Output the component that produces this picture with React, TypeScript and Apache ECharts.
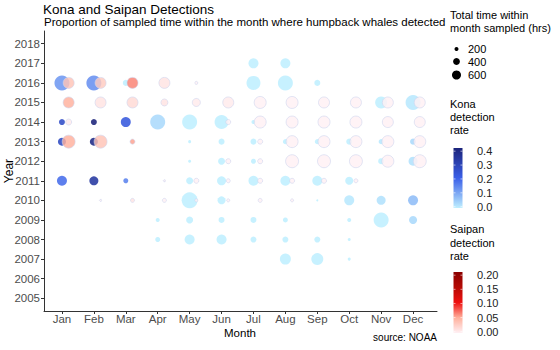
import React, { useEffect, useRef } from "react";
import * as echarts from "echarts";

const monthNames = ["Jan", "Feb", "Mar", "Apr", "May", "Jun", "Jul", "Aug", "Sep", "Oct", "Nov", "Dec"];
const monthTicks = [1, 2, 3, 4, 5, 6, 7, 8, 9, 10, 11, 12];
const yearTicks = [2005, 2006, 2007, 2008, 2009, 2010, 2011, 2012, 2013, 2014, 2015, 2016, 2017, 2018];

// [month, year, total hours sampled, detection rate]
const konaPoints = [
  [7, 2017, 706, 0], [8, 2017, 706, 0],
  [1, 2016, 1362, 0.12], [2, 2016, 1362, 0.13], [3, 2016, 334, 0], [7, 2016, 1214, 0], [8, 2016, 1362, 0], [9, 2016, 334, 0],
  [11, 2015, 943, 0], [12, 2015, 1362, 0.01],
  [1, 2014, 334, 0.26], [2, 2014, 334, 0.4], [3, 2014, 706, 0.22], [4, 2014, 1362, 0.03], [5, 2014, 1362, 0], [6, 2014, 1214, 0], [7, 2014, 200, 0],
  [1, 2013, 503, 0.27], [2, 2013, 503, 0.38], [5, 2013, 146, 0], [6, 2013, 334, 0], [7, 2013, 334, 0], [8, 2013, 263, 0], [9, 2013, 263, 0], [10, 2013, 334, 0], [11, 2013, 263, 0.01], [12, 2013, 334, 0.03],
  [5, 2012, 146, 0], [6, 2012, 414, 0], [7, 2012, 263, 0], [11, 2012, 334, 0], [12, 2012, 600, 0.02],
  [1, 2011, 706, 0.18], [2, 2011, 600, 0.33], [3, 2011, 263, 0.15], [5, 2011, 414, 0], [6, 2011, 600, 0], [7, 2011, 706, 0], [8, 2011, 706, 0], [9, 2011, 706, 0], [10, 2011, 503, 0],
  [5, 2010, 1520, 0], [6, 2010, 503, 0], [9, 2010, 100, 0], [10, 2010, 706, 0.01], [11, 2010, 600, 0.02], [12, 2010, 706, 0.07],
  [4, 2009, 200, 0], [5, 2009, 414, 0], [6, 2009, 334, 0], [7, 2009, 334, 0], [8, 2009, 263, 0], [10, 2009, 200, 0], [11, 2009, 1362, 0], [12, 2009, 503, 0.03],
  [4, 2008, 263, 0], [5, 2008, 706, 0], [6, 2008, 706, 0], [7, 2008, 334, 0], [8, 2008, 334, 0], [9, 2008, 334, 0], [10, 2008, 146, 0],
  [8, 2007, 820, 0], [9, 2007, 943, 0], [10, 2007, 146, 0],
];

const saipanPoints = [
  [1, 2016, 820, 0.035], [2, 2016, 820, 0.03], [3, 2016, 820, 0.065], [4, 2016, 820, 0.01], [5, 2016, 146, 0],
  [1, 2015, 820, 0.05], [2, 2015, 820, 0.01], [3, 2015, 820, 0.018], [4, 2015, 414, 0.01], [5, 2015, 503, 0.005], [6, 2015, 820, 0.005],
  [7, 2015, 943, 0], [8, 2015, 943, 0], [9, 2015, 820, 0], [10, 2015, 820, 0], [11, 2015, 820, 0], [12, 2015, 820, 0],
  [1, 2014, 334, 0.005], [6, 2014, 263, 0], [7, 2014, 943, 0], [8, 2014, 943, 0], [9, 2014, 943, 0], [10, 2014, 943, 0], [11, 2014, 820, 0], [12, 2014, 820, 0],
  [1, 2013, 1074, 0.05], [2, 2013, 1074, 0.035], [3, 2013, 263, 0.055], [7, 2013, 263, 0], [8, 2013, 943, 0], [9, 2013, 943, 0], [10, 2013, 943, 0], [11, 2013, 943, 0], [12, 2013, 943, 0],
  [6, 2012, 263, 0], [7, 2012, 263, 0], [8, 2012, 1074, 0], [9, 2012, 1074, 0], [10, 2012, 1074, 0], [11, 2012, 943, 0], [12, 2012, 1074, 0],
  [4, 2011, 100, 0], [5, 2011, 263, 0], [6, 2011, 200, 0], [7, 2011, 263, 0], [8, 2011, 263, 0], [9, 2011, 263, 0], [10, 2011, 200, 0],
  [2, 2010, 100, 0], [3, 2010, 200, 0.01], [4, 2010, 200, 0], [5, 2010, 146, 0], [6, 2010, 146, 0], [7, 2010, 200, 0], [8, 2010, 146, 0],
];

const sizeBreaks = [200, 400, 600];
const konaBreaks = [0.0, 0.1, 0.2, 0.3, 0.4];
const saipanBreaks = [0.0, 0.05, 0.1, 0.15, 0.2];

const konaColors = ["#BFEFFF", "#3A5FE8", "#1B237A"];
const saipanColors = ["#FFF0F4", "#FFB09C", "#EE1010", "#B50A05", "#8B0000"];

const FONT = "Liberation Sans";
const sizeOf = (h: number) => Math.max(1.5, 0.483 * Math.sqrt(h) - 2.83);
const SAIPAN_OFFSET = 0.21;

export default function App() {
  const ref = useRef<HTMLDivElement>(null);
  useEffect(() => {
    const chart = echarts.init(ref.current!, null, { renderer: "svg" });

    const graphics: any[] = [];
    const txt = (text: string, x: number, y: number, size: number, extra: any = {}) =>
      graphics.push({
        type: "text",
        x,
        y,
        style: { text, fontFamily: FONT, fontSize: size, fill: extra.fill || "#000", textAlign: extra.align || "left", textVerticalAlign: "middle" },
        rotation: extra.rotation || 0,
      });

    txt("Kona and Saipan Detections", 43, 9, 13.5);
    txt("Proportion of sampled time within the month where humpback whales detected", 44, 22, 11.5);
    txt("Year", 9, 171, 12, { rotation: Math.PI / 2, align: "center" });
    txt("Month", 240, 333, 11.5, { align: "center" });
    txt("source: NOAA", 437, 337, 10, { align: "right" });

    // size legend
    txt("Total time within", 450, 15, 11);
    txt("month sampled (hrs)", 450, 28, 11);
    const sizeYs = [49, 61.5, 75];
    sizeBreaks.forEach((b, i) => {
      graphics.push({ type: "circle", shape: { cx: 456.5, cy: sizeYs[i], r: sizeOf(b) / 2 }, style: { fill: "#000" } });
      txt(String(b), 468, sizeYs[i], 11);
    });

    // Kona colorbar
    txt("Kona", 450, 104, 11);
    txt("detection", 450, 117, 11);
    txt("rate", 450, 130, 11);
    const kTop = 148, kBot = 208;
    graphics.push({
      type: "rect",
      shape: { x: 453.5, y: kTop, width: 9, height: kBot - kTop },
      style: {
        fill: new echarts.graphic.LinearGradient(0, 1, 0, 0, konaColors.map((c, i) => ({ offset: i / (konaColors.length - 1), color: c }))),
      },
    });
    konaBreaks.forEach((b) => {
      const y = kBot - 1.3 - (b / 0.4) * (kBot - kTop - 4.5);
      txt(b.toFixed(1), 477, y, 11, { fill: "#222" });
      graphics.push({ type: "line", shape: { x1: 453.5, y1: y, x2: 455.5, y2: y }, style: { stroke: "#fff", lineWidth: 0.6 } });
      graphics.push({ type: "line", shape: { x1: 460.5, y1: y, x2: 462.5, y2: y }, style: { stroke: "#fff", lineWidth: 0.6 } });
    });

    // Saipan colorbar
    txt("Saipan", 450, 229, 11);
    txt("detection", 450, 243, 11);
    txt("rate", 450, 256, 11);
    const sTop = 272, sBot = 333;
    graphics.push({
      type: "rect",
      shape: { x: 453.5, y: sTop, width: 9, height: sBot - sTop },
      style: {
        fill: new echarts.graphic.LinearGradient(0, 1, 0, 0, saipanColors.map((c, i) => ({ offset: i / (saipanColors.length - 1), color: c }))),
      },
    });
    saipanBreaks.forEach((b) => {
      const y = sBot - 1.3 - (b / 0.2) * (sBot - sTop - 4.5);
      txt(b.toFixed(2), 477, y, 11, { fill: "#222" });
      graphics.push({ type: "line", shape: { x1: 453.5, y1: y, x2: 455.5, y2: y }, style: { stroke: "#fff", lineWidth: 0.6 } });
      graphics.push({ type: "line", shape: { x1: 460.5, y1: y, x2: 462.5, y2: y }, style: { stroke: "#fff", lineWidth: 0.6 } });
    });

    const axisLabelStyle = { fontFamily: FONT, fontSize: 11.5, color: "#4d4d4d" };

    chart.setOption({
      animation: false,
      grid: { left: 44, top: 31, width: 393, height: 280 },
      xAxis: {
        type: "value",
        min: 0.4375,
        max: 12.75,
        splitLine: { show: false },
        axisLine: { lineStyle: { color: "#333", width: 1 } },
        axisTick: { customValues: monthTicks, length: 3, lineStyle: { color: "#333" } },
        axisLabel: {
          customValues: monthTicks,
          margin: 2,
          ...axisLabelStyle,
          formatter: (v: number) => monthNames[Math.round(v) - 1] || "",
        },
      },
      yAxis: {
        type: "value",
        min: 2004.35,
        max: 2018.65,
        splitLine: { show: false },
        axisLine: { show: true, lineStyle: { color: "#333", width: 1 } },
        axisTick: { show: true, customValues: yearTicks, length: 3, lineStyle: { color: "#333" } },
        axisLabel: { customValues: yearTicks, margin: 4, ...axisLabelStyle, formatter: (v: number) => String(Math.round(v)) },
      },
      visualMap: [
        { type: "continuous", show: false, seriesIndex: 0, dimension: 3, min: 0, max: 0.4, inRange: { color: konaColors } },
        { type: "continuous", show: false, seriesIndex: 1, dimension: 3, min: 0, max: 0.2, inRange: { color: saipanColors } },
      ],
      series: [
        {
          name: "Kona",
          type: "scatter",
          data: konaPoints.map((p) => [p[0], p[1], p[2], p[3]]),
          symbolSize: (v: number[]) => sizeOf(v[2]),
          itemStyle: { opacity: 0.88 },
          silent: true,
        },
        {
          name: "Saipan",
          type: "scatter",
          data: saipanPoints.map((p) => [p[0] + SAIPAN_OFFSET, p[1], p[2], p[3]]),
          symbolSize: (v: number[]) => sizeOf(v[2]),
          itemStyle: { opacity: 0.82, borderColor: "rgba(205,212,238,0.9)", borderWidth: 0.8 },
          silent: true,
        },
      ],
      graphic: graphics,
    });
    return () => chart.dispose();
  }, []);
  return <div ref={ref} style={{ position: "fixed", left: 0, top: 0, width: 560, height: 350, background: "#fff" }} />;
}
